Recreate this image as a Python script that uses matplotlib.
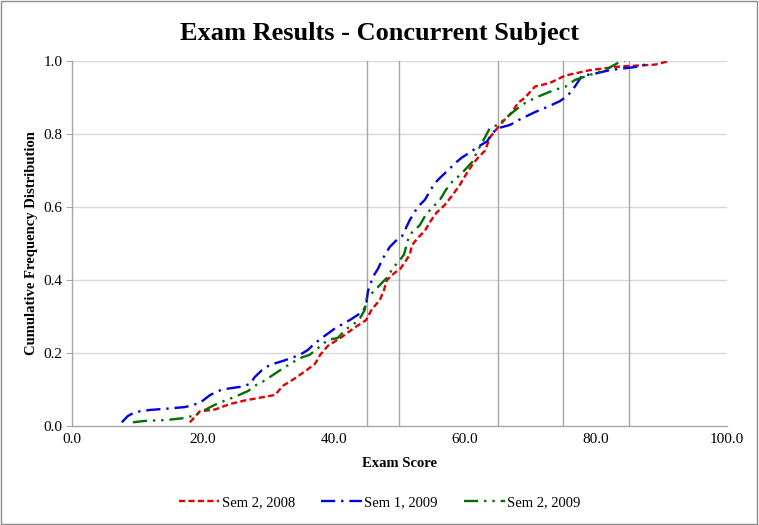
import matplotlib
matplotlib.use("Agg")
import matplotlib.pyplot as plt
from matplotlib.patches import Rectangle

plt.rcParams['font.family'] = ['Liberation Serif', 'DejaVu Serif']

# Sem 2, 2008
score_s2_08 = [18.0, 19.5, 21.8, 24.1, 26.4, 31.0, 32.2, 34.0, 35.6, 37.1, 37.9, 39.1, 40.9,
               43.2, 44.9, 45.8, 47.0, 47.6, 48.1, 49.3, 50.1, 50.7, 51.6, 51.9, 52.8, 53.9,
               54.7, 55.7, 56.9, 58.0, 59.2, 60.2, 61.1, 62.0, 63.1, 63.8, 64.9, 66.1, 67.2,
               68.1, 69.2, 70.7, 73.0, 75.3, 79.1, 83.7, 89.0, 91.3]
cfd_s2_08 = [0.01, 0.04, 0.045, 0.06, 0.07, 0.085, 0.11, 0.13, 0.15, 0.17, 0.195, 0.22, 0.24,
             0.27, 0.29, 0.32, 0.345, 0.37, 0.40, 0.42, 0.43, 0.445, 0.47, 0.495, 0.515, 0.535,
             0.56, 0.585, 0.605, 0.63, 0.66, 0.69, 0.715, 0.735, 0.755, 0.79, 0.815, 0.84, 0.86,
             0.885, 0.90, 0.93, 0.94, 0.96, 0.975, 0.985, 0.99, 1.0]

# Sem 1, 2009
score_s1_09 = [7.6, 8.5, 9.6, 11.9, 14.2, 17.3, 19.5, 21.1, 22.9, 25.6, 27.2, 27.9, 29.0, 30.2,
               32.5, 34.8, 36.0, 37.1, 38.6, 40.2, 42.4, 44.3, 44.9, 45.2, 46.0, 46.7, 47.5,
               48.5, 49.6, 50.4, 50.8, 51.6, 52.8, 53.9, 54.7, 55.4, 56.2, 57.4, 58.5, 59.5,
               60.8, 62.0, 63.4, 64.1, 64.9, 66.9, 68.4, 70.7, 72.7, 74.5, 75.7, 76.8, 77.9,
               79.8, 82.1, 84.4, 86.7, 88.2]
cfd_s1_09 = [0.01, 0.027, 0.038, 0.044, 0.047, 0.052, 0.063, 0.085, 0.10, 0.107, 0.115, 0.134,
             0.153, 0.167, 0.18, 0.195, 0.208, 0.227, 0.247, 0.268, 0.29, 0.312, 0.33, 0.37,
             0.41, 0.43, 0.46, 0.49, 0.51, 0.52, 0.535, 0.565, 0.60, 0.62, 0.645, 0.665, 0.68,
             0.70, 0.72, 0.735, 0.75, 0.765, 0.78, 0.80, 0.815, 0.825, 0.84, 0.86, 0.875,
             0.89, 0.905, 0.93, 0.96, 0.965, 0.975, 0.98, 0.985, 0.995]

# Sem 2, 2009
score_s2_09 = [9.3, 11.1, 14.2, 17.3, 18.8, 20.3, 21.8, 23.4, 24.9, 26.9, 28.1, 29.0, 30.2,
               31.8, 33.3, 34.8, 36.3, 37.6, 39.1, 40.6, 41.7, 43.2, 44.0, 44.7, 45.0, 45.8,
               47.0, 48.2, 49.0, 50.1, 50.7, 51.3, 51.9, 53.1, 54.0, 54.7, 56.2, 57.1, 58.0,
               58.9, 59.7, 61.1, 62.0, 63.1, 63.8, 65.0, 66.1, 67.2, 68.1, 69.2, 70.7, 72.2,
               73.7, 75.3, 76.8, 79.1, 81.4, 83.4, 84.4]
cfd_s2_09 = [0.01, 0.014, 0.016, 0.022, 0.03, 0.044, 0.058, 0.07, 0.08, 0.096, 0.112, 0.12,
             0.134, 0.153, 0.17, 0.186, 0.195, 0.214, 0.236, 0.241, 0.263, 0.282, 0.296, 0.318,
             0.35, 0.364, 0.386, 0.408, 0.433, 0.455, 0.47, 0.51, 0.53, 0.55, 0.578, 0.592,
             0.62, 0.647, 0.668, 0.682, 0.696, 0.723, 0.756, 0.792, 0.816, 0.825, 0.841, 0.858,
             0.871, 0.885, 0.899, 0.91, 0.921, 0.929, 0.948, 0.962, 0.975, 0.995, 1.0]

marker_scores = [45, 50, 65, 75, 85]
x_ticks = [0, 20, 40, 60, 80, 100]
y_ticks = [0.0, 0.2, 0.4, 0.6, 0.8, 1.0]

fig = plt.figure(figsize=(7.59, 5.25), dpi=100)
ax = fig.add_axes([0.0949, 0.1886, 0.8627, 0.6952])

# chart border
fig.patches.append(Rectangle((0.001, 0.001), 0.997, 0.997, transform=fig.transFigure,
                             fill=False, edgecolor='#8c8c8c', linewidth=1.0))

for y in y_ticks[1:]:
    ax.axhline(y, color='#d9d9d9', linewidth=1.0, zorder=0)
for x in marker_scores:
    ax.axvline(x, color='#a6a6a6', linewidth=1.0, zorder=1)

lw = 1.7
ax.plot(score_s2_08, cfd_s2_08, color='#e00000', linewidth=lw, dashes=(2.6, 1.4),
        label='Sem 2, 2008', zorder=3)
ax.plot(score_s1_09, cfd_s1_09, color='#0000e6', linewidth=lw, dashes=(6, 2.5, 1, 2.5),
        label='Sem 1, 2009', zorder=3)
ax.plot(score_s2_09, cfd_s2_09, color='#007000', linewidth=lw, dashes=(6, 2.5, 1, 2.5, 1, 2.5),
        label='Sem 2, 2009', zorder=3)

ax.set_xlim(0, 100)
ax.set_ylim(0, 1.0)
ax.set_xticks(x_ticks)
ax.set_xticklabels([f"{v:.1f}" for v in x_ticks])
ax.set_yticks(y_ticks)
ax.set_yticklabels([f"{v:.1f}" for v in y_ticks])
ax.tick_params(axis='x', length=0, pad=5, labelsize=11)
ax.tick_params(axis='y', length=4, color='#a6a6a6', pad=3, labelsize=11)

for s in ['top', 'right']:
    ax.spines[s].set_visible(False)
for s in ['left', 'bottom']:
    ax.spines[s].set_color('#a6a6a6')
    ax.spines[s].set_linewidth(1.0)

ax.set_xlabel('Exam Score', fontsize=10.5, fontweight='bold', labelpad=8)
ax.set_ylabel('Cumulative Frequency Distribution', fontsize=10.5, fontweight='bold', labelpad=4)
fig.suptitle('Exam Results - Concurrent Subject', fontsize=19, fontweight='bold', y=0.958)

fig.legend(loc='center', bbox_to_anchor=(0.5, 0.043), ncol=3, frameon=False,
           fontsize=10.5, handlelength=2.8, columnspacing=1.8, handletextpad=0.15)

fig.savefig('out.png', dpi=100)
